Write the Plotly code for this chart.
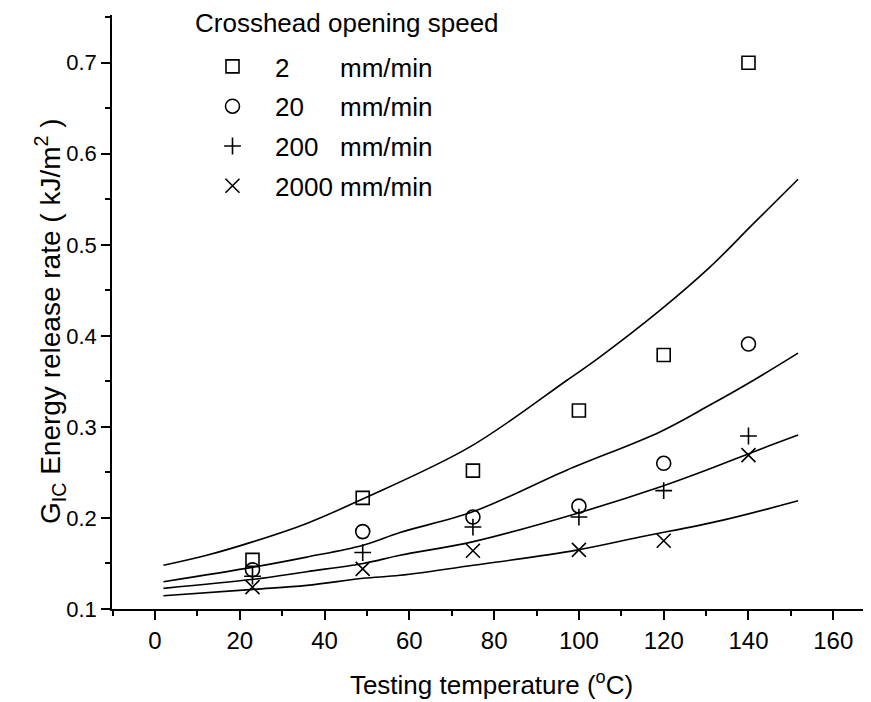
import plotly.graph_objects as go

# ---- data ----
temps = [23, 49, 75, 100, 120, 140]
g_2 = [0.154, 0.222, 0.252, 0.318, 0.379, 0.700]
g_20 = [0.143, 0.185, 0.201, 0.213, 0.260, 0.391]
g_200 = [0.136, 0.162, 0.190, 0.201, 0.230, 0.290]
g_2000 = [0.124, 0.144, 0.164, 0.165, 0.175, 0.269]

fit1_t = [2.0, 12.2, 23.2, 35.8, 49.1, 74.3, 97.1, 105.0, 119.1, 130.9, 141.1, 151.7]
fit1_g = [0.148, 0.159, 0.174, 0.194, 0.221, 0.278, 0.351, 0.377, 0.428, 0.4755, 0.523, 0.572]
fit2_t = [2.0, 23.2, 35.8, 49.1, 57.8, 75.1, 97.1, 119.1, 130.9, 141.1, 151.7]
fit2_g = [0.130, 0.146, 0.157, 0.170, 0.184, 0.207, 0.2525, 0.2945, 0.324, 0.351, 0.381]
fit3_t = [2.0, 23.2, 35.8, 49.1, 57.8, 75.1, 99.5, 119.1, 130.9, 141.1, 151.7]
fit3_g = [0.1227, 0.1326, 0.141, 0.150, 0.159, 0.174, 0.205, 0.234, 0.254, 0.2725, 0.291]
fit4_t = [2.0, 23.2, 35.8, 49.1, 57.8, 75.1, 99.5, 114.4, 134.0, 151.7]
fit4_g = [0.1146, 0.1216, 0.126, 0.1337, 0.137, 0.148, 0.1647, 0.179, 0.1976, 0.2188]

series_labels = ["2", "20", "200", "2000"]
pad = {"2": 7, "20": 5, "200": 3, "2000": 1}

FONT = "Liberation Sans, Arial, sans-serif"

OFF = 8  # page body margin in the browser
fig = go.Figure()

for t, g in [(fit1_t, fit1_g), (fit2_t, fit2_g), (fit3_t, fit3_g), (fit4_t, fit4_g)]:
    fig.add_trace(go.Scatter(x=t, y=g, mode="lines",
                             line=dict(color="black", width=1.6, shape="spline", smoothing=1.0),
                             showlegend=False, hoverinfo="skip"))

symbols = ["square-open", "circle-open", "cross-thin", "x-thin"]
sizes = [13, 14, 12, 14]
for lab, vals, sym, sz in zip(series_labels, [g_2, g_20, g_200, g_2000], symbols, sizes):
    fig.add_trace(go.Scatter(
        x=temps, y=vals, mode="markers",
        name=lab + "\u00a0" * pad[lab] + "mm/min",
        legendgroup=lab,
        marker=dict(symbol=sym, size=sz, color="black", line=dict(color="black", width=1.6)),
    ))

# plot area in page pixels
L, T, W, H = 112, 15, 759, 594
FW, FH = 871, 702

def px_x(p):
    return (p - L) / W

def px_y(p):
    return (T + H - p) / H

fig.update_layout(
    width=FW, height=FH,
    margin=dict(l=L - OFF, r=FW - (L - OFF) - W, t=T - OFF, b=FH - (T - OFF) - H, pad=0),
    paper_bgcolor="white", plot_bgcolor="white",
    font=dict(family=FONT, color="black", size=22),
    showlegend=True,
    legend=dict(
        x=px_x(190), y=px_y(43), xanchor="left", yanchor="top",
        bgcolor="rgba(0,0,0,0)", font=dict(size=26, family=FONT),
        tracegroupgap=3, itemwidth=75,
    ),
    annotations=[
        dict(text="Crosshead opening speed", x=px_x(193), y=px_y(23), xref="paper", yref="paper",
             xanchor="left", yanchor="middle", showarrow=False, font=dict(size=26, family=FONT)),
        dict(text="G<sub>IC</sub> Energy release rate ( kJ/m<sup>2</sup> )", textangle=-90,
             x=px_x(50), y=px_y(321), xref="paper", yref="paper",
             xanchor="center", yanchor="middle", showarrow=False, font=dict(size=28, family=FONT)),
    ],
)

fig.update_xaxes(
    range=[-10.14, 168.9], showgrid=False, zeroline=False,
    showline=True, linecolor="black", linewidth=1.6,
    ticks="outside", ticklen=9, tickwidth=1.5, tickcolor="black",
    tick0=0, dtick=20,
    minor=dict(ticks="outside", ticklen=5, tickwidth=1.5, tickcolor="black", dtick=10, tick0=0),
    tickfont=dict(size=24, family=FONT),
    title=dict(text="Testing temperature (<sup>o</sup>C)", font=dict(size=26, family=FONT), standoff=23),
)
fig.update_yaxes(
    range=[0.1, 0.7524], showgrid=False, zeroline=False,
    showline=True, linecolor="black", linewidth=1.6,
    ticks="outside", ticklen=9, tickwidth=1.5, tickcolor="black",
    tick0=0.1, dtick=0.1, tickformat=".1f",
    minor=dict(ticks="outside", ticklen=5, tickwidth=1.5, tickcolor="black", dtick=0.05, tick0=0.1),
    tickfont=dict(size=22, family=FONT),
)

fig.write_html("out.html")
